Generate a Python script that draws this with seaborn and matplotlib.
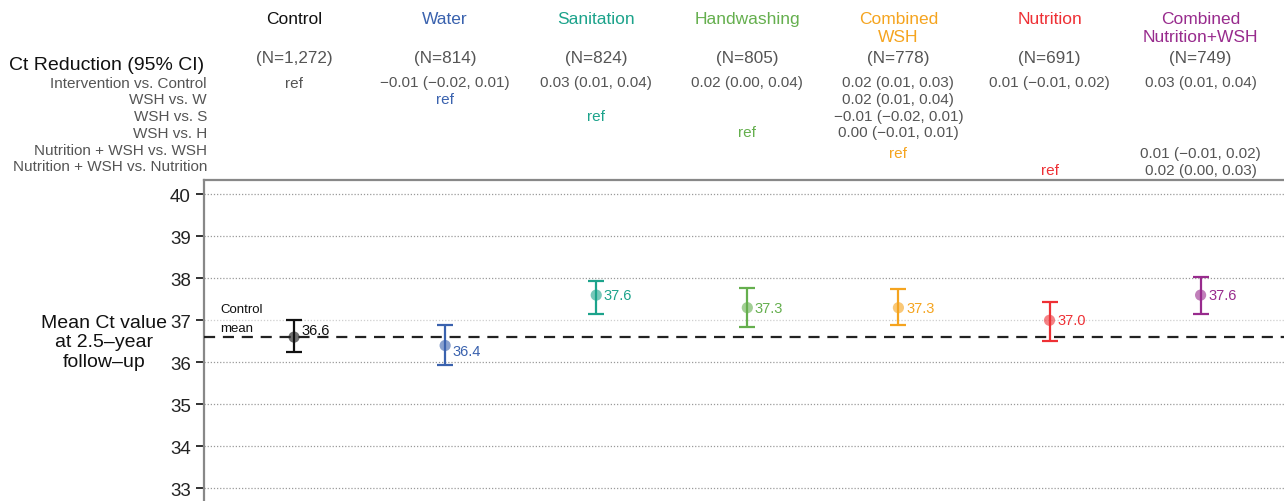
import numpy as np
import pandas as pd
import matplotlib.pyplot as plt
import matplotlib.transforms as mtransforms
import seaborn as sns

# arm names, sample sizes and mean Ct with 95% CI
groups = ["Control", "Water", "Sanitation", "Handwashing",
          "Combined\nWSH", "Nutrition", "Combined\nNutrition+WSH"]
n_obs = ["1,272", "814", "824", "805", "778", "691", "749"]
mean_ct = [36.6, 36.4, 37.6, 37.3, 37.3, 37.0, 37.6]
ci_low = [36.25, 35.94, 37.15, 36.85, 36.89, 36.50, 37.14]
ci_high = [37.01, 36.90, 37.94, 37.77, 37.74, 37.44, 38.03]
control_mean = 36.6
colors = ["#111111", "#3A62AE", "#1CA38B", "#65AF4E", "#F5A41F", "#EE3035", "#982B8D"]

# Ct reduction table
row_labels = ["Intervention vs. Control", "WSH vs. W", "WSH vs. S", "WSH vs. H",
              "Nutrition + WSH vs. WSH", "Nutrition + WSH vs. Nutrition"]
row_values = [
    ["ref", "\u22120.01 (\u22120.02, 0.01)", "0.03 (0.01, 0.04)", "0.02 (0.00, 0.04)",
     "0.02 (0.01, 0.03)", "0.01 (\u22120.01, 0.02)", "0.03 (0.01, 0.04)"],
    ["", "ref", "", "", "0.02 (0.01, 0.04)", "", ""],
    ["", "", "ref", "", "\u22120.01 (\u22120.02, 0.01)", "", ""],
    ["", "", "", "ref", "0.00 (\u22120.01, 0.01)", "", ""],
    ["", "", "", "", "ref", "", "0.01 (\u22120.01, 0.02)"],
    ["", "", "", "", "", "ref", "0.02 (0.00, 0.03)"],
]

df = pd.DataFrame({"pos": np.arange(len(groups)), "group": groups,
                   "mean": mean_ct, "lo": ci_low, "hi": ci_high})

sns.set_theme(style="white")
plt.rcParams['font.family'] = ['Liberation Sans', 'DejaVu Sans']

W, H = 1284, 502
fig = plt.figure(figsize=(W / 100, H / 100), dpi=100)
ax = fig.add_axes([204 / W, 0, 1080 / W, 321 / H])


def fy(px):
    return 1 - px / H


def py(px):
    # pixel row -> Ct value on the y axis
    return 40 - (px - 195.3) / 42


GREY = "#555555"

# error bars + points
for i, row in df.iterrows():
    ax.errorbar(row["pos"], row["mean"],
                yerr=[[row["mean"] - row["lo"]], [row["hi"] - row["mean"]]],
                fmt="none", ecolor=colors[i], elinewidth=1.6, capsize=6,
                capthick=1.6, zorder=3)
sns.scatterplot(data=df, x="pos", y="mean", hue="group", palette=colors,
                s=65, alpha=0.6, edgecolor="none", legend=False, ax=ax, zorder=4)

# value labels
label_dy = [5, -4, 0, 0, 0, 0, 0]
for i, row in df.iterrows():
    ax.annotate(f"{row['mean']:.1f}", (row["pos"], row["mean"]),
                xytext=(5.5, label_dy[i]), textcoords="offset points",
                ha="left", va="center", fontsize=10.5, color=colors[i], zorder=5)

# control mean reference
ax.axhline(control_mean, color="#222222", lw=1.6, ls=(0, (5, 3.5)), zorder=6)
ax.text(-0.49, py(310), "Control", fontsize=9.5, color="#111111",
        ha="left", va="center")
ax.text(-0.49, py(329), "mean", fontsize=9.5, color="#111111",
        ha="left", va="center")

ax.set_xlim(-0.596, 6.552)
ax.set_ylim(py(502), py(181))
ax.set_yticks(range(33, 41))
ax.set_xticks([])
ax.set_xlabel("")
ax.set_ylabel("")
ax.yaxis.grid(True, ls=(0, (1, 1.5)), color="#9a9a9a", lw=0.9)
for y, gl in zip(range(33, 41), ax.get_ygridlines()):
    if y == 37:
        gl.set_color("#cfcfcf")
ax.set_axisbelow(True)
ax.tick_params(axis="y", left=True, length=5.5, width=1.3, color="#222222",
               pad=4, labelsize=13.5, labelcolor="#222222")
for side in ["right", "bottom"]:
    ax.spines[side].set_visible(False)
for side in ["left", "top"]:
    ax.spines[side].set_color("#888888")
    ax.spines[side].set_linewidth(1.6)

ax.text(-0.596 - 0.66, py(343), "Mean Ct value\nat 2.5\u2013year\nfollow\u2013up",
        fontsize=14, color="#111111", ha="center", va="center", linespacing=1.2)

# header table
trans = mtransforms.blended_transform_factory(ax.transData, fig.transFigure)
for i, name in enumerate(groups):
    ax.text(i, fy(12), name, transform=trans, ha="center", va="top",
            fontsize=12.5, color=colors[i], linespacing=1.25)
    ax.text(i, fy(59), f"(N={n_obs[i]})", transform=trans, ha="center",
            va="center", fontsize=12.3, color=GREY)

fig.text(204 / W, fy(65), "Ct Reduction (95% CI)", ha="right", va="center",
         fontsize=14, color="#111111")

label_y = [84, 100, 117, 134, 150.7, 166.7]
value_y = [83.5, 100, 116.7, 133.3, 154, 170.7]
for r, lab in enumerate(row_labels):
    fig.text(207 / W, fy(label_y[r]), lab, ha="right", va="center",
             fontsize=11, color=GREY)
    for i, val in enumerate(row_values[r]):
        if not val:
            continue
        c = colors[i] if (val == "ref" and r > 0) else GREY
        ax.text(i, fy(value_y[r]), val, transform=trans, ha="center",
                va="center", fontsize=11, color=c)

fig.savefig("out.png", dpi=100)
